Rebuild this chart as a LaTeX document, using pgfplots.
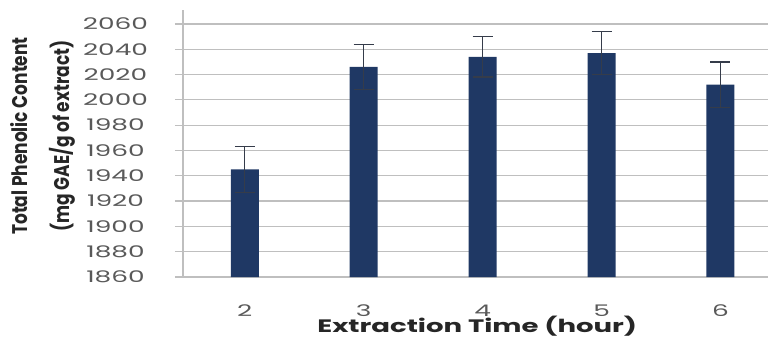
\documentclass[border=0pt]{standalone}
\usepackage{pgfplots}
\pgfplotsset{compat=1.18}
\usepackage{fontspec}
\setmainfont{Poppins}
\definecolor{barblue}{HTML}{1F3864}
\definecolor{gridgray}{HTML}{BFBFBF}
\definecolor{ticktext}{HTML}{595959}
\definecolor{errcol}{HTML}{353C4A}
\pgfplotstableread{
x y e
2 1945 18
3 2026 18
4 2034 16
5 2037 17
6 2012 18
}\datatable
\begin{document}
\begin{tikzpicture}
\begin{axis}[
  at={(183pt,63pt)}, anchor=south west,
  scale only axis, width=585pt, height=267pt,
  xmin=1.48, xmax=6.40, ymin=1860, ymax=2071,
  ybar, bar width=28pt,
  axis x line=bottom, axis y line=left,
  axis line style={draw=gridgray, line width=1.2pt, -},
  ymajorgrids, grid style={draw=gridgray, line width=1.2pt},
  ytick={1860,1880,...,2060},
  xtick={2,3,4,5,6},
  tick align=outside,
  major tick length=8pt,
  ytick style={draw=gridgray, line width=1.2pt},
  xtick style={draw=none},
  /pgf/number format/1000 sep={},
  /pgf/number format/assume math mode=true,
  yticklabel={\scalebox{1.65}[1]{\pgfmathprintnumber{\tick}}},
  xticklabel={\scalebox{1.65}[1]{\pgfmathprintnumber{\tick}}},
  yticklabel style={anchor=center, xshift=-59.5pt, text=ticktext, font=\fontsize{16}{18}\selectfont},
  xticklabel style={anchor=center, yshift=-25.5pt, text=ticktext, font=\fontsize{16}{18}\selectfont},
  xlabel={\scalebox{1.53}[1]{Extraction Time (hour)}},
  xlabel style={at={(rel axis cs:0.503,-0.1835)}, anchor=center, text=black!85, font=\bfseries\fontsize{18}{20}\selectfont},
  ylabel={\scalebox{1}[1.25]{Total Phenolic Content}\\\scalebox{1}[1.25]{(mg GAE/g of extract)}},
  ylabel style={at={(rel axis cs:-0.2393,0.528)}, anchor=center, align=center, text=black!85, font=\bfseries\fontsize{17}{42}\selectfont},
  clip=false,
]
\addplot[fill=barblue, draw=none,
  error bars/.cd, y dir=both, y explicit,
  error bar style={draw=errcol, line width=1.3pt},
  error mark options={rotate=90, mark size=10pt, line width=1.3pt, draw=errcol}]
  table[x=x, y=y, y error=e] {\datatable};
\end{axis}
\pgfresetboundingbox
\useasboundingbox (0,0) rectangle (768pt,340pt);
\end{tikzpicture}
\end{document}
